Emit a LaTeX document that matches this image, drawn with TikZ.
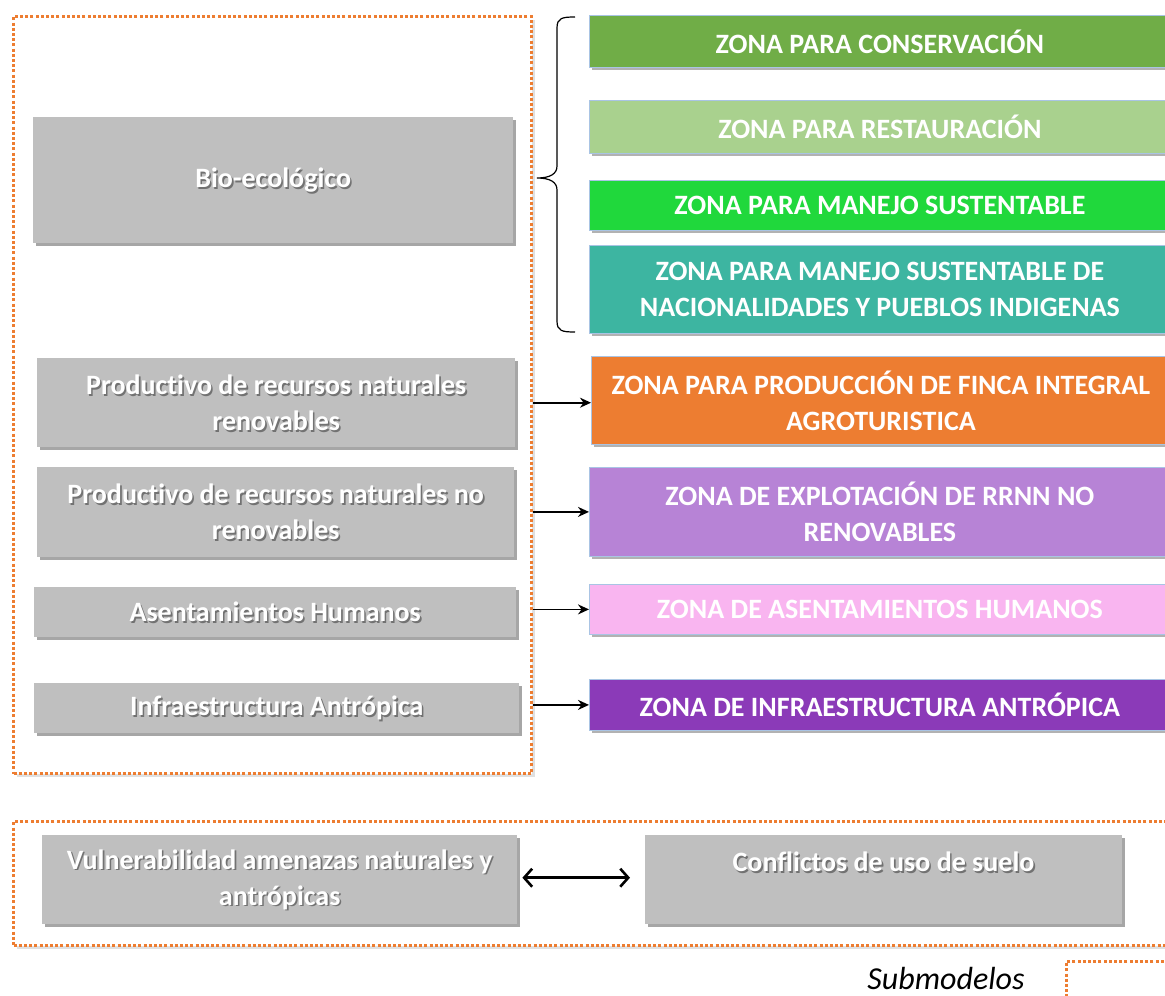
\documentclass[tikz,border=0pt]{standalone}
\usepackage{fontspec}
\setmainfont{Carlito}[Ligatures=NoCommon]
\usetikzlibrary{shadows,arrows.meta}
\definecolor{orangeD}{HTML}{ED7D31}
\definecolor{gbg}{HTML}{BFBFBF}
\definecolor{zborder}{HTML}{A9C4E4}
\definecolor{cA}{HTML}{70AD47}
\definecolor{cB}{HTML}{A9D18E}
\definecolor{cC}{HTML}{20D83C}
\definecolor{cD}{HTML}{3DB5A1}
\definecolor{cE}{HTML}{ED7D31}
\definecolor{cF}{HTML}{B783D6}
\definecolor{cG}{HTML}{F9B5F0}
\definecolor{cH}{HTML}{8B3AB8}
\tikzset{
  bigfont/.style={font=\bfseries\fontsize{28}{36}\selectfont},
  subbox/.style={draw=orangeD, fill=white, line width=3pt, dash pattern=on 3pt off 2.2pt,
    inner sep=0pt, anchor=north west,
    drop shadow={shadow xshift=3pt, shadow yshift=-3pt, opacity=.12, fill=black}},
  gbox/.style={fill=gbg, draw=none, inner sep=0pt, anchor=north west,
    drop shadow={shadow xshift=3pt, shadow yshift=-3pt, opacity=.35, fill=black}},
  gtext/.style={bigfont, text=white, align=center, inner sep=0pt},
  gshade/.style={bigfont, text=black!75, opacity=.6, align=center, inner sep=0pt},
  zbox/.style={fill=#1, draw=zborder, line width=0.8pt, inner sep=0pt, anchor=north west,
    bigfont, text=white, align=center,
    drop shadow={shadow xshift=3pt, shadow yshift=-3pt, opacity=.3, fill=black}},
  bracepath/.style={draw=black, line width=1.2pt},
  arr/.style={draw=black, line width=1.6pt, -{Stealth[length=11pt,width=10pt]}},
  dbl/.style={draw=black, line width=2.6pt, {Straight Barb[length=8pt,width=18pt]}-{Straight Barb[length=8pt,width=18pt]}},
  legtext/.style={font=\itshape\fontsize{32}{38}\selectfont, inner sep=0pt}
}
\begin{document}
\begin{tikzpicture}[x=1pt,y=-1pt]
\useasboundingbox (0,0) rectangle (1165,996);
\clip (0,0) rectangle (1165,996);

% dotted submodel frames
\node[subbox, minimum width=518pt, minimum height=757pt] (s1) at (12,15) {};
\node[subbox, minimum width=1170pt, minimum height=124pt] (s2) at (12,820) {};
\node[subbox, minimum width=120pt, minimum height=60pt] (s3) at (1065,960) {};

% grey boxes
\node[gbox, minimum width=480pt, minimum height=126pt] (g1) at (33,117) {};
\node[gshade] at ([xshift=1.6pt,yshift=-1.6pt]g1.center) {Bio-ecológico};
\node[gtext] (g1t) at (g1.center) {Bio-ecológico};

\node[gbox, minimum width=478pt, minimum height=89pt] (g2) at (37,358) {};
\node[gshade] at ([xshift=1.6pt,yshift=-1.6pt]g2.center) {Productivo de recursos naturales\\renovables};
\node[gtext] (g2t) at (g2.center) {Productivo de recursos naturales\\renovables};

\node[gbox, minimum width=477pt, minimum height=90pt] (g3) at (37,467) {};
\node[gshade] at ([xshift=1.6pt,yshift=-1.6pt]g3.center) {Productivo de recursos naturales no\\renovables};
\node[gtext] (g3t) at (g3.center) {Productivo de recursos naturales no\\renovables};

\node[gbox, minimum width=482pt, minimum height=50pt] (g4) at (34,587) {};
\node[gshade] at ([xshift=1.6pt,yshift=-1.6pt]g4.center) {Asentamientos Humanos};
\node[gtext] (g4t) at (g4.center) {Asentamientos Humanos};

\node[gbox, minimum width=485pt, minimum height=50pt] (g5) at (34,683) {};
\node[gshade] at ([xshift=1.6pt,yshift=-1.6pt]g5.center) {Infraestructura Antrópica};
\node[gtext] (g5t) at (g5.center) {Infraestructura Antrópica};

\node[gbox, minimum width=475pt, minimum height=89pt] (g6) at (42,835) {};
\node[gshade] at ([xshift=1.6pt,yshift=-1.6pt]g6.center) {Vulnerabilidad amenazas naturales y\\antrópicas};
\node[gtext] (g6t) at (g6.center) {Vulnerabilidad amenazas naturales y\\antrópicas};

\node[gbox, minimum width=477pt, minimum height=89pt] (g7) at (645,835) {};
\node[gshade] at (885.1,863.6) {Conflictos de uso de suelo};
\node[gtext] (g7t) at (883.5,862) {Conflictos de uso de suelo};

% zone boxes
\node[zbox=cA, minimum width=581pt, minimum height=52pt] (z1) at (589,15) {ZONA PARA CONSERVACIÓN};
\node[zbox=cB, minimum width=581pt, minimum height=53pt] (z2) at (589,100) {ZONA PARA RESTAURACIÓN};
\node[zbox=cC, minimum width=581pt, minimum height=50pt] (z3) at (589,180) {ZONA PARA MANEJO SUSTENTABLE};
\node[zbox=cD, minimum width=581pt, minimum height=88pt] (z4) at (589,245) {ZONA PARA MANEJO SUSTENTABLE DE\\NACIONALIDADES Y PUEBLOS INDIGENAS};
\node[zbox=cE, minimum width=579pt, minimum height=88pt] (z5) at (591,356) {ZONA PARA PRODUCCIÓN DE FINCA INTEGRAL\\AGROTURISTICA};
\node[zbox=cF, minimum width=581pt, minimum height=89pt] (z6) at (589,467) {ZONA DE EXPLOTACIÓN DE RRNN NO\\RENOVABLES};
\node[zbox=cG, minimum width=581pt, minimum height=50pt] (z7) at (589,584) {ZONA DE ASENTAMIENTOS HUMANOS};
\node[zbox=cH, minimum width=581pt, minimum height=51pt] (z8) at (589,679) {ZONA DE INFRAESTRUCTURA ANTRÓPICA};

% brace
\draw[bracepath] (575,17) .. controls (562,17) and (557,18) .. (557,28)
  -- (557,166) .. controls (557,174) and (550,178) .. (537,178)
  .. controls (550,178) and (557,182) .. (557,190)
  -- (557,321) .. controls (557,331) and (562,332) .. (575,332);

% arrows
\draw[arr] (s1.east |- g2.east) -- (z5.west |- g2.east);
\draw[arr] (s1.east |- z6.west) -- (z6.west);
\draw[arr] (s1.east |- z7.west) -- (z7.west);
\draw[arr] (s1.east |- z8.west) -- (z8.west);
\draw[dbl] ([xshift=5pt,yshift=2pt]g6.east) -- ([xshift=-15pt,yshift=2pt]g7.west);

% legend
\node[legtext] (leg) at (946,978) {Submodelos};
\end{tikzpicture}
\end{document}
